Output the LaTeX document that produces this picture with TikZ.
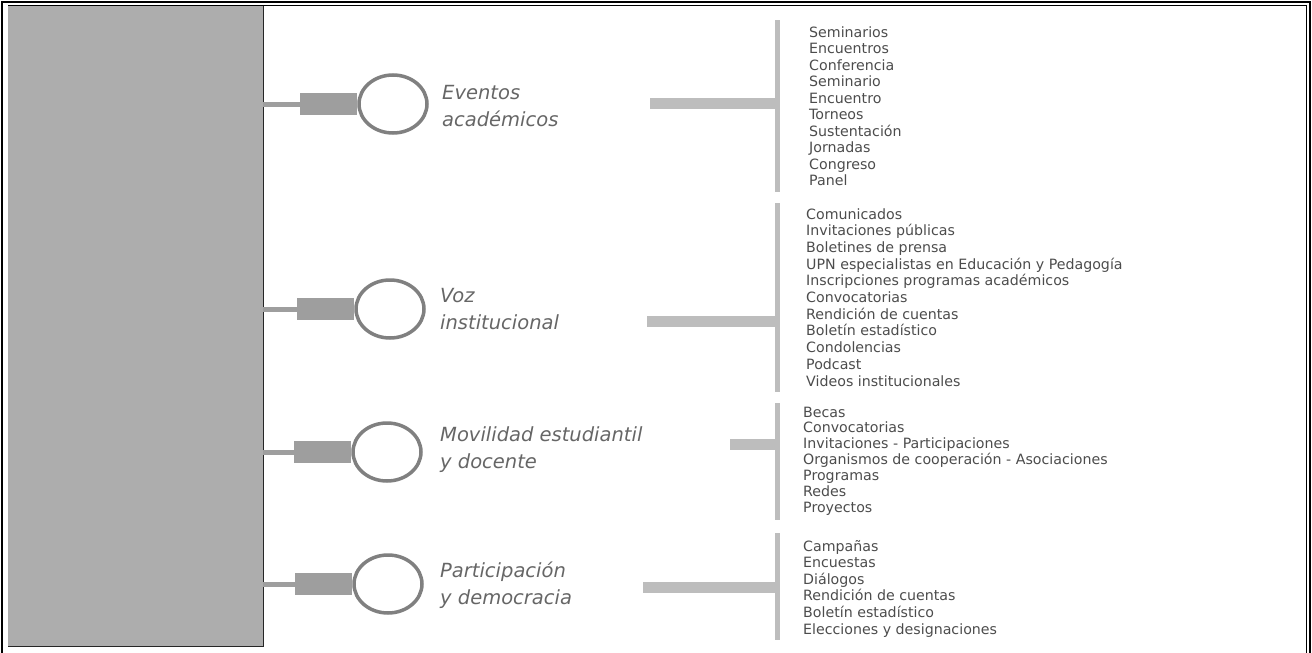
\documentclass[tikz,border=0pt]{standalone}
\usepackage{fontspec}
\setmainfont{DejaVu Sans}
\usetikzlibrary{shapes.geometric}
\definecolor{panelgray}{gray}{0.68}
\definecolor{bargray}{gray}{0.62}
\definecolor{ringgray}{gray}{0.50}
\definecolor{brackgray}{gray}{0.74}
\definecolor{labgray}{gray}{0.40}
\definecolor{itemgray}{gray}{0.30}
\tikzset{
  frameline/.style={line width=1.4pt, black},
  panelbox/.style={rectangle, fill=panelgray, inner sep=0, minimum width=255pt, minimum height=640pt},
  ring/.style={ellipse, draw=ringgray, line width=3.5pt, fill=white, minimum width=68pt, minimum height=58pt, inner sep=0},
  thinbar/.style={draw=bargray, line width=5pt},
  thickbar/.style={draw=bargray, line width=22pt},
  hbar/.style={draw=brackgray, line width=11pt},
  vbar/.style={draw=brackgray, line width=5pt},
  lab/.style={font=\fontsize{19.5}{27}\selectfont\itshape, text=labgray, align=left, inner sep=0},
  item/.style={font=\fontsize{14.2}{16}\selectfont, text=itemgray, inner sep=0},
}
\begin{document}
\begin{tikzpicture}[x=1pt,y=-1pt]
\useasboundingbox (0,0) rectangle (1312,653);
% frame
\draw[frameline] (2,653) -- (2,2) -- (1310,2) -- (1310,653);
\draw[line width=1pt] (8,5.5) -- (1306,5.5) -- (1306,653);
% panel
\node[panelbox, anchor=north west] (panel) at (8,6) {};
\draw[line width=1.6pt, black!85] (panel.north east) -- (panel.south east) -- (panel.south west);
% rings
\node[ring] (c1) at (393,104) {};
\node[ring] (c2) at (390,309) {};
\node[ring] (c3) at (387,452) {};
\node[ring] (c4) at (388,584) {};
% connectors
\foreach \c in {c1,c2,c3,c4}{
  \draw[thinbar] (panel.east |- \c) -- (\c.west);
  \draw[thickbar] ([xshift=-57pt]\c.west) -- (\c.west);
}
% labels
\node[lab, anchor=west] (l1) at (442,106) {Eventos\\académicos};
\node[lab, anchor=west] (l2) at (440,309) {Voz\\institucional};
\node[lab, anchor=west] (l3) at (440,450) {Movilidad estudiantil\\y docente};
\node[lab, anchor=west] (l4) at (440,585) {Participación\\y democracia};
% brackets
\coordinate (h1) at (650,103);  \coordinate (j1) at (777,103);
\coordinate (v1t) at (777,20);  \coordinate (v1b) at (777,192);
\coordinate (h2) at (647,321);  \coordinate (j2) at (777,321);
\coordinate (v2t) at (777,203); \coordinate (v2b) at (777,392);
\coordinate (h3) at (730,444);  \coordinate (j3) at (777,444);
\coordinate (v3t) at (777,403); \coordinate (v3b) at (777,520);
\coordinate (h4) at (643,587);  \coordinate (j4) at (777,587);
\coordinate (v4t) at (777,533); \coordinate (v4b) at (777,640);
\foreach \k in {1,2,3,4}{
  \draw[hbar] (h\k) -- (j\k);
  \draw[vbar] (v\k t) -- (v\k b);
}
% lists
\foreach \t [count=\i] in {Seminarios,Encuentros,Conferencia,Seminario,Encuentro,Torneos,Sustentación,Jornadas,Congreso,Panel}
  \node[item, anchor=base west] (a\i) at (809,{37+16.55*(\i-1)}) {\t};
\foreach \t [count=\i] in {Comunicados,Invitaciones públicas,Boletines de prensa,UPN especialistas en Educación y Pedagogía,Inscripciones programas académicos,Convocatorias,Rendición de cuentas,Boletín estadístico,Condolencias,Podcast,Videos institucionales}
  \node[item, anchor=base west] (b\i) at (806,{219+16.7*(\i-1)}) {\t};
\foreach \t [count=\i] in {Becas,Convocatorias,Invitaciones - Participaciones,Organismos de cooperación - Asociaciones,Programas,Redes,Proyectos}
  \node[item, anchor=base west] (m\i) at (803,{417+15.85*(\i-1)}) {\t};
\foreach \t [count=\i] in {Campañas,Encuestas,Diálogos,Rendición de cuentas,Boletín estadístico,Elecciones y designaciones}
  \node[item, anchor=base west] (p\i) at (803,{551+16.6*(\i-1)}) {\t};
\end{tikzpicture}
\end{document}
